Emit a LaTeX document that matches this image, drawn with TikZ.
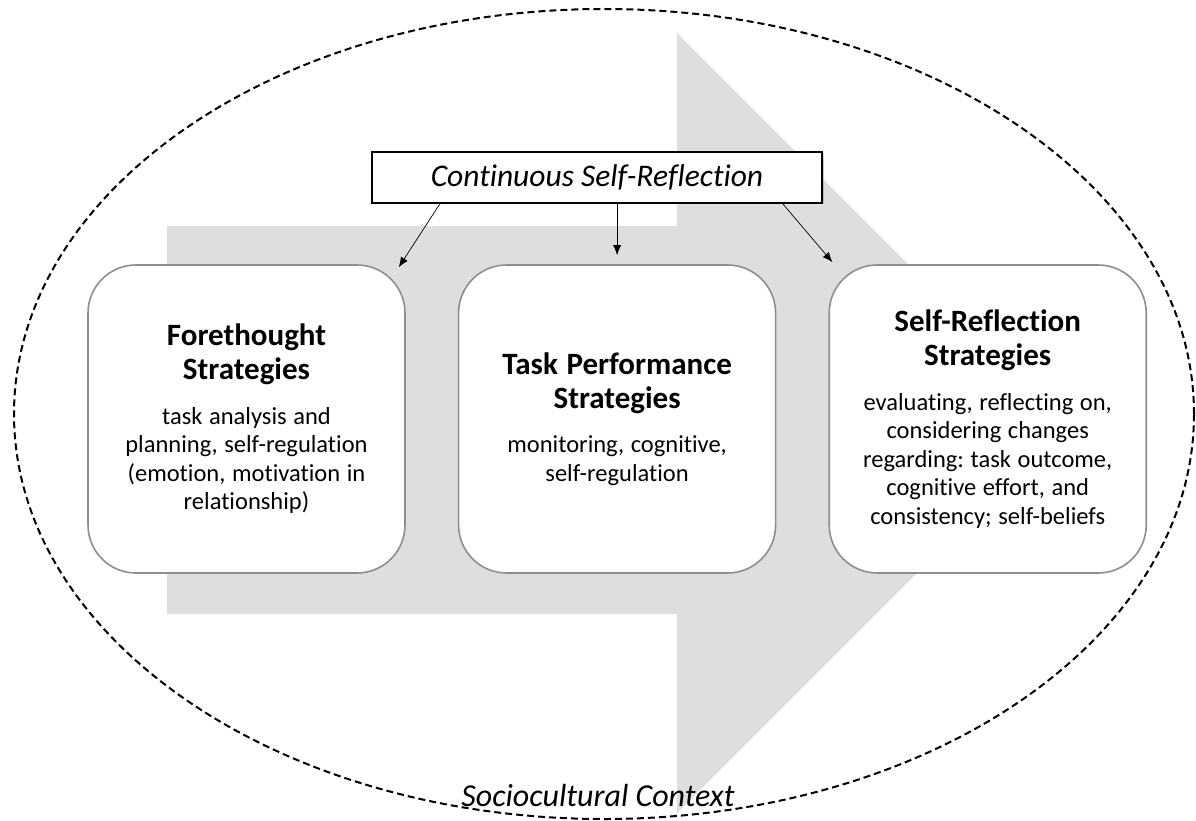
\documentclass[tikz,border=0pt]{standalone}
\usepackage{fontspec}
\setmainfont{Carlito}[Ligatures=NoCommon]
\usepackage{tikz}
\usetikzlibrary{shadows,arrows.meta,shapes,positioning}
\tikzset{every shadow/.style={}}
\definecolor{flowgray}{HTML}{DEDEDE}
\definecolor{edgegray}{HTML}{8E8E8E}

\newcommand{\stagetext}[2]{\frenchspacing{\fontsize{31}{34}\selectfont\bfseries\spaceskip=0.28em\relax #1\par}\vspace{16pt}{\fontsize{24.5}{28.5}\selectfont\spaceskip=0.27em\relax #2\par}}

\begin{document}
\begin{tikzpicture}[x=1pt, y=-1pt, node distance=52pt, >={Latex[length=10pt,width=8pt]},
    stage/.style={draw=edgegray, line width=1.6pt, fill=white, rounded corners=48pt, minimum width=317pt, minimum height=308pt, text width=305pt, align=center, inner sep=0pt},
    link/.style={->, line width=0.7pt}]
        \useasboundingbox (0,0) rectangle (1196,821);

        % Context and the big flow arrow behind everything
        \node[draw, ellipse, dash pattern=on 7pt off 4pt, line width=2pt, minimum width=1180pt, minimum height=810pt, inner sep=0pt] (context) at (604,414) {};
        \fill[flowgray] (167,226) -- (677,226) -- (677,33) -- (1067,423) -- (677,813) -- (677,614) -- (167,614) -- cycle;

        % The three phases
        \node[stage] (fore) at (246.5,419) {\stagetext{Forethought\\Strategies}{task analysis and\\planning, self-regulation\\(emotion, motivation in\\relationship)}};
        \node[stage, right=of fore] (perf) {\stagetext{Task Performance\\Strategies}{monitoring, cognitive,\\self-regulation}};
        \node[stage, right=of perf] (selfref) {\stagetext{Self-Reflection\\Strategies}{evaluating, reflecting on,\\considering changes\\regarding: task outcome,\\cognitive effort, and\\consistency; self-beliefs}};

        % Top box and its arrows
        \node[draw, line width=1.2pt, fill=white, drop shadow={shadow xshift=1.5pt, shadow yshift=-1.5pt, fill=black!40}, minimum width=450pt, minimum height=51pt, font=\fontsize{31.5}{36}\selectfont\itshape] (reflect) at (597,177.5) {Continuous Self-Reflection};
        \draw[link] ([xshift=-157pt]reflect.south) -- ([shift={(-7pt,-3pt)}]fore.north east);
        \draw[link] (reflect.south -| perf.north) -- ([yshift=9pt]perf.north);
        \draw[link] ([xshift=-40pt]reflect.south east) -- ([shift={(4pt,2pt)}]selfref.north west);

        \node[font=\fontsize{32}{36}\selectfont\itshape] (ctxlabel) at (598,795) {Sociocultural Context};
\end{tikzpicture}
\end{document}
